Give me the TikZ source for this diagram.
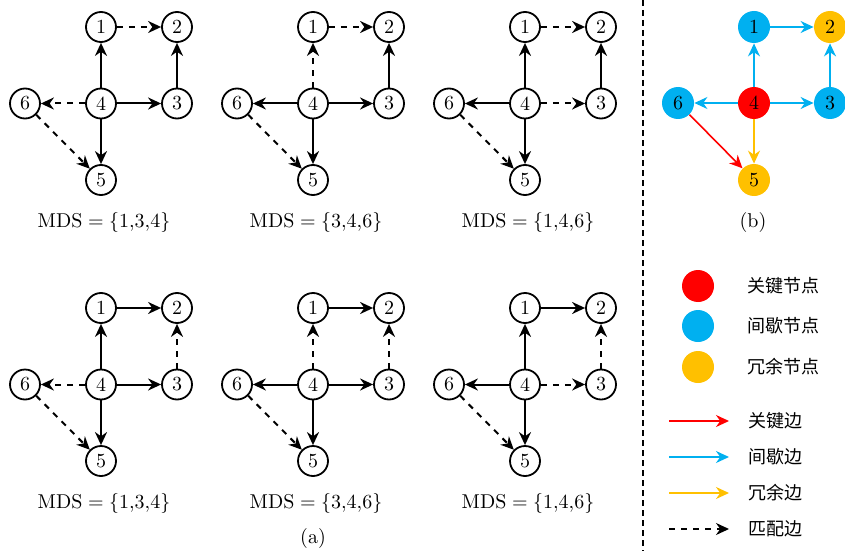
\documentclass[tikz,border=0pt]{standalone}
\usepackage{fontspec}
\newfontfamily\cjk{Noto Sans CJK SC}
\usetikzlibrary{arrows.meta}
\definecolor{kred}{HTML}{FF0000}
\definecolor{kblue}{HTML}{00B0F0}
\definecolor{kyel}{HTML}{FFC000}
\tikzset{
  vtx/.style={circle,draw,line width=0.9pt,minimum size=15pt,inner sep=0pt},
  edge/.style={line width=1pt,-{Stealth[length=6.5pt,width=6pt]}},
  sol/.style={edge},
  dsh/.style={edge,dashed},
  cvtx/.style={circle,minimum size=16pt,inner sep=0pt},
  cedge/.style={line width=0.8pt,-{Stealth[length=6.5pt,width=6pt]}},
  legtxt/.style={anchor=west,font=\cjk\fontsize{9pt}{11pt}\selectfont,inner sep=0pt},
  lbl/.style={inner sep=0pt}
}
\newcommand\onegraph[9]{%
  \begin{scope}[shift={(#2,#3)}]
    \node[vtx] (#1-1) at (0,0) {1};
    \node[vtx] (#1-2) at (76,0) {2};
    \node[vtx] (#1-4) at (0,76.5) {4};
    \node[vtx] (#1-3) at (76,76.5) {3};
    \node[vtx] (#1-6) at (-76,76.5) {6};
    \node[vtx] (#1-5) at (0,153) {5};
    \draw[#4] (#1-1) -- (#1-2);
    \draw[#5] (#1-4) -- (#1-1);
    \draw[#6] (#1-3) -- (#1-2);
    \draw[#7] (#1-4) -- (#1-6);
    \draw[#8] (#1-4) -- (#1-3);
    \draw[sol] (#1-4) -- (#1-5);
    \draw[dsh] (#1-6) -- (#1-5);
    \node[lbl] (#1-l) at (3,195) {$\mathrm{MDS}=\{#9\}$};
  \end{scope}}
\begin{document}
\begin{tikzpicture}[x=0.5pt,y=-0.5pt]
  \useasboundingbox (0,0) rectangle (845,551);
  % (a) graphs
  \onegraph{ga}{101}{27}{dsh}{sol}{sol}{dsh}{sol}{1{,}3{,}4}
  \onegraph{gb}{313}{27}{dsh}{dsh}{sol}{sol}{sol}{3{,}4{,}6}
  \onegraph{gc}{525}{27}{dsh}{sol}{sol}{sol}{dsh}{1{,}4{,}6}
  \onegraph{gd}{101}{308}{sol}{sol}{dsh}{dsh}{sol}{1{,}3{,}4}
  \onegraph{ge}{313}{308}{sol}{dsh}{dsh}{sol}{sol}{3{,}4{,}6}
  \onegraph{gf}{525}{308}{sol}{sol}{dsh}{sol}{dsh}{1{,}4{,}6}
  \node[lbl] (capa) at (313,538) {(a)};
  % separator
  \coordinate (septop) at (643,0);
  \coordinate (sepbot) at (643,551);
  \draw[line width=0.9pt,dash pattern=on 3pt off 2pt] (septop) -- (sepbot);
  % (b) graph
  \node[cvtx,fill=kblue] (b1) at (754,27) {1};
  \node[cvtx,fill=kyel] (b2) at (830,27) {2};
  \node[cvtx,fill=kred] (b4) at (754,103) {4};
  \node[cvtx,fill=kblue] (b3) at (830,103) {3};
  \node[cvtx,fill=kblue] (b6) at (678,103) {6};
  \node[cvtx,fill=kyel] (b5) at (754,180) {5};
  \draw[cedge,kblue] (b1) -- (b2);
  \draw[cedge,kblue] (b3) -- (b2);
  \draw[cedge,kblue] (b4) -- (b1);
  \draw[cedge,kblue] (b4) -- (b6);
  \draw[cedge,kblue] (b4) -- (b3);
  \draw[cedge,kyel] (b4) -- (b5);
  \draw[cedge,kred] (b6) -- (b5);
  \node[lbl] (capb) at (753,222) {(b)};
  % legend nodes
  \node[cvtx,fill=kred] (lc1) at (698,286) {};
  \node[cvtx,fill=kblue] (lc2) at (698,326) {};
  \node[cvtx,fill=kyel] (lc3) at (698,367) {};
  \node[legtxt] (lt1) at (747,286) {关键节点};
  \node[legtxt] (lt2) at (747,326) {间歇节点};
  \node[legtxt] (lt3) at (747,367) {冗余节点};
  % legend edges
  \coordinate (la1) at (669,421); \coordinate (lb1) at (729,421);
  \coordinate (la2) at (669,457); \coordinate (lb2) at (729,457);
  \coordinate (la3) at (669,493); \coordinate (lb3) at (729,493);
  \coordinate (la4) at (669,529); \coordinate (lb4) at (729,529);
  \draw[cedge,kred] (la1) -- (lb1);
  \draw[cedge,kblue] (la2) -- (lb2);
  \draw[cedge,kyel] (la3) -- (lb3);
  \draw[dsh,line width=0.8pt] (la4) -- (lb4);
  \node[legtxt] (le1) at (748,421) {关键边};
  \node[legtxt] (le2) at (748,457) {间歇边};
  \node[legtxt] (le3) at (748,493) {冗余边};
  \node[legtxt] (le4) at (748,529) {匹配边};
\end{tikzpicture}
\end{document}
